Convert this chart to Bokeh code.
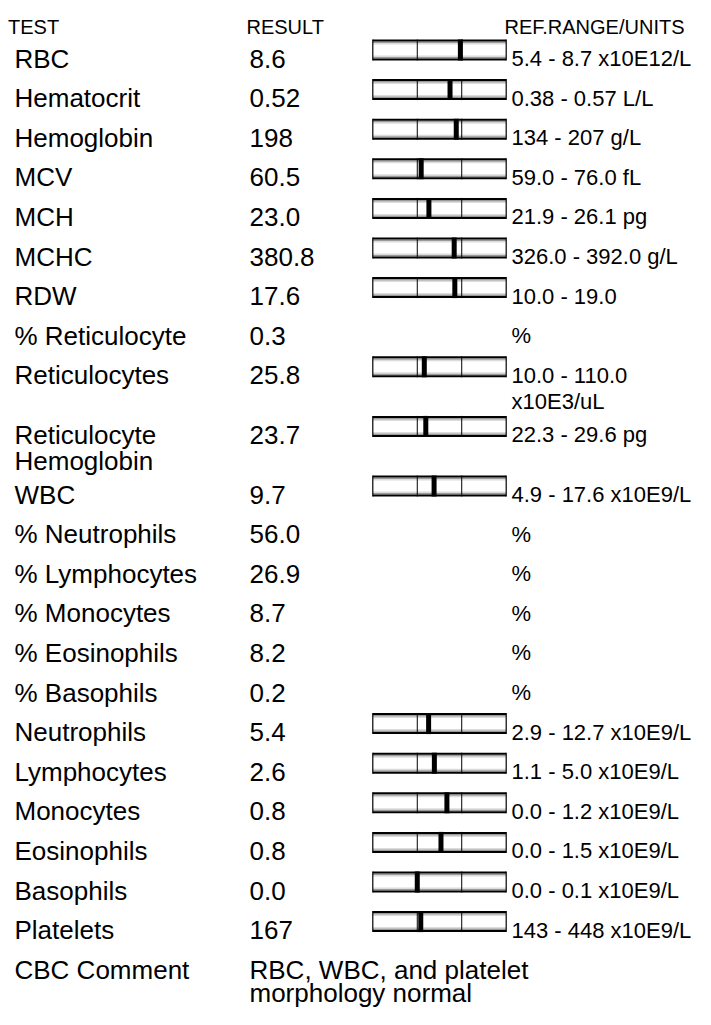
import textwrap
from bokeh.plotting import figure
from bokeh.models import ColumnDataSource, Range1d
from bokeh.core.properties import value
from bokeh.embed import file_html
from bokeh.resources import INLINE

# ---------------- data ----------------
headers = ["TEST", "RESULT", "REF.RANGE/UNITS"]

tests = ["RBC", "Hematocrit", "Hemoglobin", "MCV", "MCH", "MCHC", "RDW",
         "% Reticulocyte", "Reticulocytes", "Reticulocyte Hemoglobin", "WBC",
         "% Neutrophils", "% Lymphocytes", "% Monocytes", "% Eosinophils",
         "% Basophils", "Neutrophils", "Lymphocytes", "Monocytes",
         "Eosinophils", "Basophils", "Platelets", "CBC Comment"]

results = ["8.6", "0.52", "198", "60.5", "23.0", "380.8", "17.6", "0.3",
           "25.8", "23.7", "9.7", "56.0", "26.9", "8.7", "8.2", "0.2",
           "5.4", "2.6", "0.8", "0.8", "0.0", "167",
           "RBC, WBC, and platelet morphology normal"]

range_low = ["5.4", "0.38", "134", "59.0", "21.9", "326.0", "10.0", None,
             "10.0", "22.3", "4.9", None, None, None, None, None,
             "2.9", "1.1", "0.0", "0.0", "0.0", "143", None]

range_high = ["8.7", "0.57", "207", "76.0", "26.1", "392.0", "19.0", None,
              "110.0", "29.6", "17.6", None, None, None, None, None,
              "12.7", "5.0", "1.2", "1.5", "0.1", "448", None]

units = ["x10E12/L", "L/L", "g/L", "fL", "pg", "g/L", "", "%",
         "x10E3/uL", "pg", "x10E9/L", "%", "%", "%", "%", "%",
         "x10E9/L", "x10E9/L", "x10E9/L", "x10E9/L", "x10E9/L", "x10E9/L", ""]

# ---------------- layout ----------------
W, H = 695, 1009
X_TEST_HDR, X_TEST = 7.5, 14
X_RES = 249
X_RANGE = 511
BAR_L, BAR_R = 372.3, 505.7
BAR_H = 21
FIRST_BASE = 58.0
ROW_STEP = 39.6
EXTRA_LINE = 20.0
LINE_GAP = 26.0
LAST_GAP = 23.0
FONT = value("Liberation Sans")

p = figure(width=W, height=H, output_backend="svg", toolbar_location=None,
           x_range=Range1d(0, W), y_range=Range1d(H, 0),
           min_border=0)
p.axis.visible = False
p.grid.visible = False
p.outline_line_color = None
p.background_fill_color = "white"
p.border_fill_color = "white"

# header
hdr = ColumnDataSource(dict(x=[X_TEST_HDR, 246, 504], y=[26, 26, 26],
                            text=headers))
p.text("x", "y", text="text", source=hdr, text_font=FONT,
       text_font_size="20px", text_baseline="alphabetic", text_align="left",
       text_color="#000000")

tx, ty, tt = [], [], []
rx, ry, rt = [], [], []
box_l, box_r, box_t, box_b = [], [], [], []
mk_x, mk_t, mk_b = [], [], []
base = FIRST_BASE
third = (BAR_R - BAR_L) / 3.0
for i, name in enumerate(tests):
    lab_lines = textwrap.wrap(name, 16)
    res_lines = textwrap.wrap(results[i], 24)
    if range_low[i] is not None:
        rtxt = f"{range_low[i]} - {range_high[i]} {units[i]}".strip()
    else:
        rtxt = units[i]
    rng_lines = textwrap.wrap(rtxt, 19) if rtxt else []
    nlines = max(len(lab_lines), len(res_lines), max(len(rng_lines), 1))
    gap = LINE_GAP if i < len(tests) - 1 else LAST_GAP
    for col_x, lines in ((X_TEST, lab_lines), (X_RES, res_lines)):
        for k, ln in enumerate(lines):
            tx.append(col_x)
            ty.append(base + k * gap)
            tt.append(ln)
    for k, ln in enumerate(rng_lines):
        rx.append(X_RANGE)
        ry.append(base + k * gap)
        rt.append(ln)
    if range_low[i] is not None:
        lo, hi = float(range_low[i]), float(range_high[i])
        v = float(results[i])
        c = base - 8.5
        box_l.append(BAR_L); box_r.append(BAR_R)
        box_t.append(c - BAR_H / 2); box_b.append(c + BAR_H / 2)
        frac = (v - lo) / (hi - lo)
        mk_x.append(BAR_L + third + frac * third)
        mk_t.append(c - BAR_H / 2); mk_b.append(c + BAR_H / 2)
    base += ROW_STEP + (nlines - 1) * EXTRA_LINE

body = ColumnDataSource(dict(x=tx, y=ty, text=tt))
p.text("x", "y", text="text", source=body, text_font=FONT,
       text_font_size="26px", text_baseline="alphabetic", text_align="left",
       text_color="#000000")

rng = ColumnDataSource(dict(x=rx, y=ry, text=rt))
p.text("x", "y", text="text", source=rng, text_font=FONT,
       text_font_size="22px", text_baseline="alphabetic", text_align="left",
       text_color="#000000")

# range bars
bs = ColumnDataSource(dict(l=box_l, r=box_r, t=box_t, b=box_b,
                           t1=[t + 2 for t in box_t], t2=[t + 3.5 for t in box_t],
                           t3=[t + 5 for t in box_t],
                           b1=[b - 2 for b in box_b], b2=[b - 3.5 for b in box_b],
                           b3=[b - 5 for b in box_b],
                           d1=[l + third for l in box_l],
                           d2=[l + 2 * third for l in box_l]))
p.quad(left="l", right="r", top="t", bottom="b", source=bs,
       fill_color="white", line_color=None)
p.quad(left="l", right="r", top="t2", bottom="t3", source=bs,
       fill_color="#dcdcdc", line_color=None)
p.quad(left="l", right="r", top="t1", bottom="t2", source=bs,
       fill_color="#9a9a9a", line_color=None)
p.quad(left="l", right="r", top="b3", bottom="b2", source=bs,
       fill_color="#dcdcdc", line_color=None)
p.quad(left="l", right="r", top="b2", bottom="b1", source=bs,
       fill_color="#9a9a9a", line_color=None)
p.quad(left="l", right="r", top="t", bottom="t1", source=bs,
       fill_color="black", line_color=None)
p.quad(left="l", right="r", top="b1", bottom="b", source=bs,
       fill_color="black", line_color=None)
p.segment(x0="l", x1="l", y0="t", y1="b", source=bs, line_color="black", line_width=1.2)
p.segment(x0="r", x1="r", y0="t", y1="b", source=bs, line_color="black", line_width=1.2)
p.segment(x0="d1", x1="d1", y0="t", y1="b", source=bs, line_color="black", line_width=1)
p.segment(x0="d2", x1="d2", y0="t", y1="b", source=bs, line_color="black", line_width=1)

ms = ColumnDataSource(dict(l=[x - 2.5 for x in mk_x], r=[x + 2.5 for x in mk_x],
                           t=mk_t, b=mk_b))
p.quad(left="l", right="r", top="t", bottom="b", source=ms,
       fill_color="black", line_color=None)

open("out.html", "w").write(file_html(p, INLINE))
